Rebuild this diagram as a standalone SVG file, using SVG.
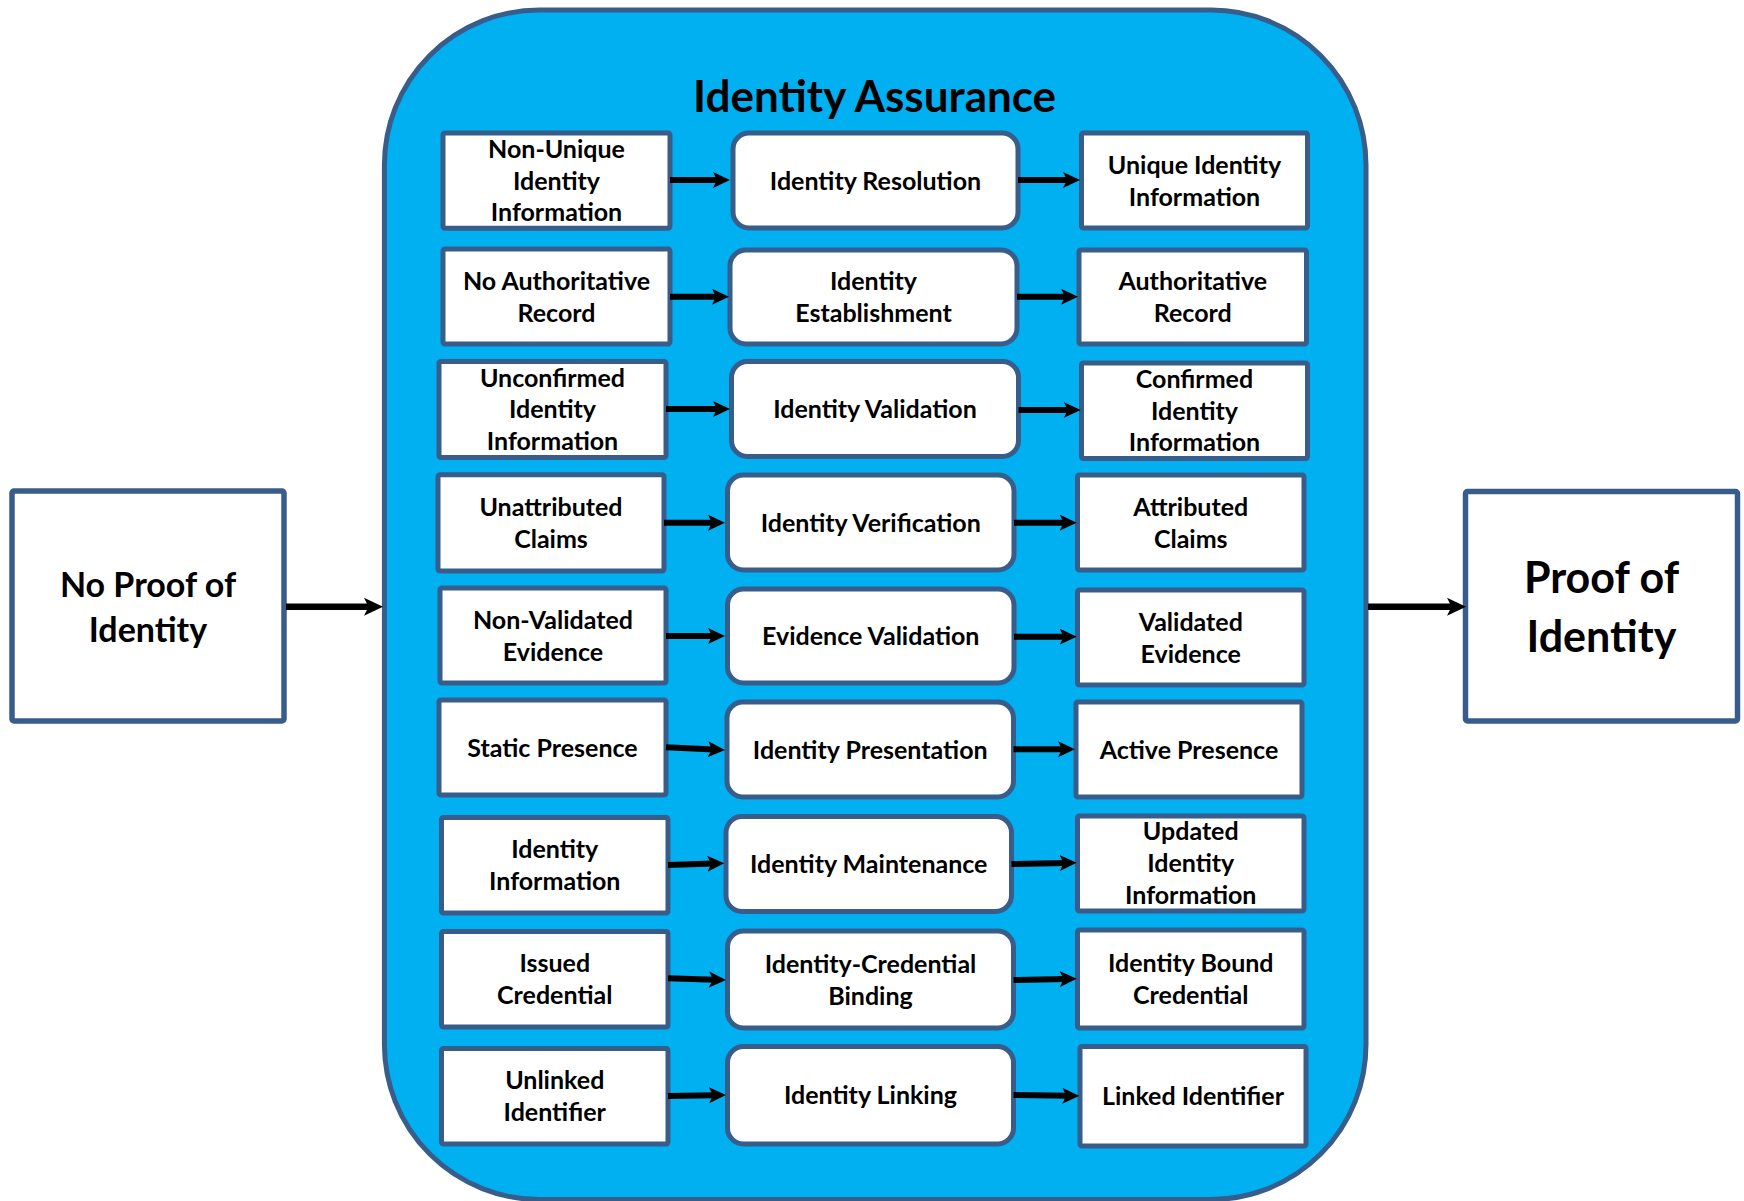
<svg xmlns="http://www.w3.org/2000/svg" width="1744" height="1201" viewBox="0 0 1744 1201">
<style>
.bg{fill:#FFFFFF}
.cont{fill:#00B0F0;stroke:#385D8A;stroke-width:5}
.box{fill:#FFFFFF;stroke:#385D8A;stroke-width:5}
.big{fill:#FFFFFF;stroke:#385D8A;stroke-width:5.5}
.t{font-family:Lato,"Open Sans","Liberation Sans",sans-serif;font-weight:700;font-size:25px;text-anchor:middle;fill:#000}
.tb{font-family:Lato,"Open Sans","Liberation Sans",sans-serif;font-weight:700;text-anchor:middle;fill:#000}
.arr{fill:none;stroke:#000;stroke-width:6;marker-end:url(#ah)}
.arr2{fill:none;stroke:#000;stroke-width:6.5;marker-end:url(#ah2)}
</style>
<defs>
<marker id="ah" markerUnits="userSpaceOnUse" markerWidth="17" markerHeight="17" viewBox="0 0 17 17" refX="6" refY="8.5" orient="auto"><path d="M0,0.5 L17,8.5 L0,16.5 L4,8.5 Z" fill="#000"/></marker>
<marker id="ah2" markerUnits="userSpaceOnUse" markerWidth="19" markerHeight="19" viewBox="0 0 19 19" refX="7" refY="9.5" orient="auto"><path d="M0,0.5 L19,9.5 L0,18.5 L4.5,9.5 Z" fill="#000"/></marker>
</defs>
<rect class="bg" x="0" y="0" width="1744" height="1201"/>

<g id="container">
<rect class="cont" x="384.4" y="10" width="981.6" height="1189.5" rx="155" ry="155"/>
<text class="tb" x="874.6" y="112" font-size="44">Identity Assurance</text>
</g>

<g id="no-proof">
<rect class="big" x="12" y="491" width="272" height="230" rx="2"/>
<text class="tb" font-size="34"><tspan x="148" y="596.7">No Proof of</tspan><tspan x="148" y="641.7">Identity</tspan></text>
</g>
<g id="proof">
<rect class="big" x="1465.5" y="491.5" width="272" height="229.5" rx="2"/>
<text class="tb" font-size="43"><tspan x="1601.5" y="593.3">Proof of</tspan><tspan x="1601.5" y="651.7">Identity</tspan></text>
</g>

<!-- Row 1 -->
<g id="r1-left"><rect class="box" x="443" y="133" width="227" height="95.3" rx="2"/>
<text class="t"><tspan x="556.5" y="157.7">Non-Unique</tspan><tspan x="556.5" y="189.7">Identity</tspan><tspan x="556.5" y="221.2">Information</tspan></text></g>
<g id="r1-mid"><rect class="box" x="733" y="133" width="285" height="95" rx="16"/>
<text class="t" x="875.5" y="189.5">Identity Resolution</text></g>
<g id="r1-right"><rect class="box" x="1081.5" y="133" width="226" height="95" rx="2"/>
<text class="t"><tspan x="1194.5" y="173.5">Unique Identity</tspan><tspan x="1194.5" y="205.5">Information</tspan></text></g>

<!-- Row 2 -->
<g id="r2-left"><rect class="box" x="443" y="249" width="227" height="95" rx="2"/>
<text class="t"><tspan x="556.5" y="289.5">No Authoritative</tspan><tspan x="556.5" y="321.5">Record</tspan></text></g>
<g id="r2-mid"><rect class="box" x="730" y="250" width="287" height="94" rx="16"/>
<text class="t"><tspan x="873.5" y="290">Identity</tspan><tspan x="873.5" y="322">Establishment</tspan></text></g>
<g id="r2-right"><rect class="box" x="1079" y="250" width="227.5" height="94" rx="2"/>
<text class="t"><tspan x="1192.75" y="290">Authoritative</tspan><tspan x="1192.75" y="322">Record</tspan></text></g>

<!-- Row 3 -->
<g id="r3-left"><rect class="box" x="439" y="361.5" width="227" height="96" rx="2"/>
<text class="t"><tspan x="552.5" y="386.5">Unconfirmed</tspan><tspan x="552.5" y="418">Identity</tspan><tspan x="552.5" y="450">Information</tspan></text></g>
<g id="r3-mid"><rect class="box" x="731.5" y="361.5" width="287" height="95" rx="16"/>
<text class="t" x="875" y="418">Identity Validation</text></g>
<g id="r3-right"><rect class="box" x="1081.5" y="363" width="226" height="95.5" rx="2"/>
<text class="t"><tspan x="1194.5" y="387.75">Confirmed</tspan><tspan x="1194.5" y="419.75">Identity</tspan><tspan x="1194.5" y="451.25">Information</tspan></text></g>

<!-- Row 4 -->
<g id="r4-left"><rect class="box" x="438" y="474.8" width="226" height="96.2" rx="2"/>
<text class="t"><tspan x="551" y="515.9">Unattributed</tspan><tspan x="551" y="547.9">Claims</tspan></text></g>
<g id="r4-mid"><rect class="box" x="727.5" y="475" width="286.5" height="95" rx="16"/>
<text class="t" x="870.75" y="531.5">Identity Verification</text></g>
<g id="r4-right"><rect class="box" x="1077.5" y="475" width="226.5" height="95" rx="2"/>
<text class="t"><tspan x="1190.75" y="515.5">Attributed</tspan><tspan x="1190.75" y="547.5">Claims</tspan></text></g>

<!-- Row 5 -->
<g id="r5-left"><rect class="box" x="440" y="588" width="226" height="95" rx="2"/>
<text class="t"><tspan x="553" y="628.5">Non-Validated</tspan><tspan x="553" y="660.5">Evidence</tspan></text></g>
<g id="r5-mid"><rect class="box" x="727.5" y="589" width="286.5" height="94" rx="16"/>
<text class="t" x="870.75" y="645">Evidence Validation</text></g>
<g id="r5-right"><rect class="box" x="1077.5" y="590" width="226.5" height="95" rx="2"/>
<text class="t"><tspan x="1190.75" y="630.5">Validated</tspan><tspan x="1190.75" y="662.5">Evidence</tspan></text></g>

<!-- Row 6 -->
<g id="r6-left"><rect class="box" x="439" y="700" width="227" height="95" rx="2"/>
<text class="t" x="552.5" y="756.5">Static Presence</text></g>
<g id="r6-mid"><rect class="box" x="727" y="702" width="286.5" height="95" rx="16"/>
<text class="t" x="870.25" y="758.5">Identity Presentation</text></g>
<g id="r6-right"><rect class="box" x="1076" y="702" width="226" height="95" rx="2"/>
<text class="t" x="1189" y="758.5">Active Presence</text></g>

<!-- Row 7 -->
<g id="r7-left"><rect class="box" x="441.5" y="817.5" width="226.5" height="95.5" rx="2"/>
<text class="t"><tspan x="554.75" y="858.25">Identity</tspan><tspan x="554.75" y="890.25">Information</tspan></text></g>
<g id="r7-mid"><rect class="box" x="726" y="816.5" width="285.5" height="95" rx="16"/>
<text class="t" x="868.75" y="873">Identity Maintenance</text></g>
<g id="r7-right"><rect class="box" x="1077.5" y="816" width="226.5" height="95" rx="2"/>
<text class="t"><tspan x="1190.75" y="840">Updated</tspan><tspan x="1190.75" y="872">Identity</tspan><tspan x="1190.75" y="903.5">Information</tspan></text></g>

<!-- Row 8 -->
<g id="r8-left"><rect class="box" x="441.5" y="931.5" width="226.5" height="95.5" rx="2"/>
<text class="t"><tspan x="554.75" y="972.25">Issued</tspan><tspan x="554.75" y="1004.25">Credential</tspan></text></g>
<g id="r8-mid"><rect class="box" x="727.5" y="931" width="286" height="97" rx="16"/>
<text class="t"><tspan x="870.5" y="972.5">Identity-Credential</tspan><tspan x="870.5" y="1004.5">Binding</tspan></text></g>
<g id="r8-right"><rect class="box" x="1077.5" y="930" width="226.5" height="98" rx="2"/>
<text class="t"><tspan x="1190.75" y="972">Identity Bound</tspan><tspan x="1190.75" y="1004">Credential</tspan></text></g>

<!-- Row 9 -->
<g id="r9-left"><rect class="box" x="441.5" y="1048.5" width="226.5" height="95.5" rx="2"/>
<text class="t"><tspan x="554.75" y="1089.25">Unlinked</tspan><tspan x="554.75" y="1121.25">Identifier</tspan></text></g>
<g id="r9-mid"><rect class="box" x="727.5" y="1046.5" width="286" height="97.5" rx="16"/>
<text class="t" x="870.5" y="1104.25">Identity Linking</text></g>
<g id="r9-right"><rect class="box" x="1080" y="1046.5" width="226" height="99.5" rx="2"/>
<text class="t" x="1193" y="1105.25">Linked Identifier</text></g>

<g id="connectors">
<path class="arr2" d="M286,606.7 L371,606.7"/>
<path class="arr2" d="M1368,606.7 L1454,606.7"/>
<path class="arr" d="M670,180 L719,180"/>
<path class="arr" d="M1018,180 L1069,180"/>
<path class="arr" d="M670,296.7 L718,296.7"/>
<path class="arr" d="M1017,296.7 L1067,296.7"/>
<path class="arr" d="M666,409 L719,409"/>
<path class="arr" d="M1018.5,410 L1069.7,410"/>
<path class="arr" d="M664,522.7 L714,522.7"/>
<path class="arr" d="M1014,522.7 L1065.7,522.7"/>
<path class="arr" d="M666,636 L714,636"/>
<path class="arr" d="M1014,636.7 L1065.7,636.7"/>
<path class="arr" d="M666,747.3 L714,749.5"/>
<path class="arr" d="M1013.5,749.3 L1064,749.3"/>
<path class="arr" d="M668,865 L713.3,863.6"/>
<path class="arr" d="M1011.5,864 L1065.7,863"/>
<path class="arr" d="M668,978.3 L715,979.7"/>
<path class="arr" d="M1013.5,980 L1065.7,979"/>
<path class="arr" d="M668,1096 L715,1095.2"/>
<path class="arr" d="M1013.5,1095 L1068.3,1095.8"/>
</g>
</svg>
